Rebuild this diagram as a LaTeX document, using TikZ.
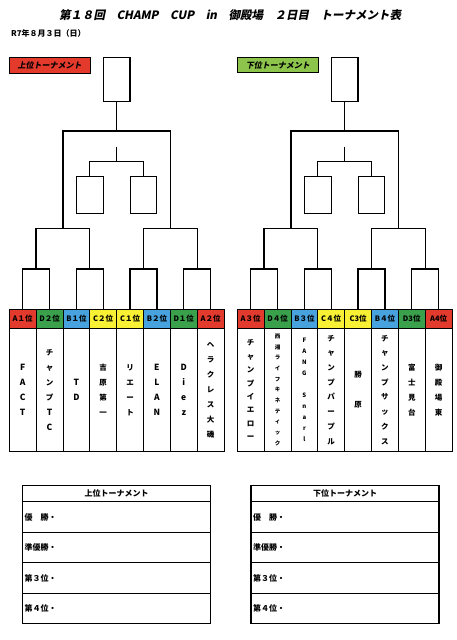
\documentclass[tikz,border=0pt]{standalone}
\usepackage{fontspec}
\setmainfont{Noto Sans CJK JP}
\newfontfamily\slantjp[FakeSlant=0.2]{Noto Sans CJK JP}
\definecolor{cA}{RGB}{226,58,44}
\definecolor{cB}{RGB}{72,162,222}
\definecolor{cC}{RGB}{248,240,52}
\definecolor{cD}{RGB}{58,160,76}
\definecolor{lblred}{RGB}{228,58,44}
\definecolor{lblgreen}{RGB}{140,196,76}
\newcommand\lat[1]{{\fontsize{8.5}{15}\selectfont #1}}
\tikzset{
  ln/.style={line width=1.3pt},
  hdr/.style={draw, line width=0.9pt, minimum width=26.84pt, minimum height=19pt, inner sep=0pt, font=\bfseries\fontsize{7.5}{8}\selectfont},
  namebox/.style={draw, line width=0.9pt, minimum width=26.84pt, minimum height=123pt, inner sep=0pt, align=center, font=\bfseries\fontsize{7.5}{15}\selectfont},
  latbox/.style={namebox, font=\bfseries\fontsize{8.5}{15}\selectfont},
  finalbox/.style={draw, line width=1.1pt, minimum width=26.7pt, minimum height=44.4pt, inner sep=0pt},
  thirdbox/.style={draw, line width=1.1pt, minimum width=26.7pt, minimum height=36.6pt, inner sep=0pt},
  lbl/.style={draw, line width=1pt, minimum width=80.7pt, minimum height=15.6pt, inner sep=0pt, font=\slantjp\bfseries\fontsize{8}{9}\selectfont},
  thead/.style={draw, line width=1.1pt, minimum width=188pt, minimum height=16pt, inner sep=0pt, font=\bfseries\fontsize{8}{9}\selectfont},
  trow/.style={draw, line width=1.1pt, text width=184pt, inner sep=2pt, minimum height=30.6pt, align=left, font=\bfseries\fontsize{8}{9}\selectfont},
}
\newcommand\bracketlines[1]{%
  \node[finalbox] (#1top) at (116.66,79.5) {};
  \node[thirdbox] (#1b1) at (89.82,195) {};
  \node[thirdbox] (#1b2) at (143.5,195) {};
  \coordinate (#1q12) at (36.14,269);
  \coordinate (#1q34) at (89.82,269);
  \coordinate (#1q56) at (143.5,269);
  \coordinate (#1q78) at (197.18,269);
  \coordinate (#1s14) at (62.98,228.3);
  \coordinate (#1s58) at (170.34,228.3);
  \coordinate (#1f) at (116.66,131);
  \coordinate (#1t0) at (116.66,146.7);
  \coordinate (#1t1) at (116.66,161.7);
  \draw[ln] (#1h1.north) |- (#1q12) -| (#1h2.north);
  \draw[ln] (#1h3.north) |- (#1q34) -| (#1h4.north);
  \draw[ln] (#1h5.north) |- (#1q56) -| (#1h6.north);
  \draw[ln] (#1h7.north) |- (#1q78) -| (#1h8.north);
  \draw[ln] (#1q12) |- (#1s14) -| (#1q34);
  \draw[ln] (#1q56) |- (#1s58) -| (#1q78);
  \draw[ln] (#1s14) |- (#1f) -| (#1s58);
  \draw[ln] (#1f) -- (#1top.south);
  \draw[ln] (#1t0) -- (#1t1);
  \draw[ln] (#1b1.north) |- (#1t1) -| (#1b2.north);
}
\begin{document}
\begin{tikzpicture}[x=1pt,y=-1pt]
\useasboundingbox[fill=white] (0,0) rectangle (457,640);
% title
\node[font=\slantjp\bfseries\fontsize{11.5}{12}\selectfont] (title) at (230,15) {第１８回　CHAMP　CUP　in　御殿場　２日目　トーナメント表};
\node[anchor=west, inner sep=0pt, font=\bfseries\fontsize{8}{9}\selectfont] (date) at (11,33) {R7年８月３日（日）};
% labels
\node[lbl, fill=lblred] (lblup) at (49.65,65.5) {上位トーナメント};
\node[lbl, fill=lblgreen] (lbllow) at (277.8,65) {下位トーナメント};
% left bracket
\begin{scope}
  \node[hdr, fill=cA] (Lh1) at (22.72,318.8) {A１位};
  \node[hdr, fill=cD] (Lh2) at (49.56,318.8) {D２位};
  \node[hdr, fill=cB] (Lh3) at (76.40,318.8) {B１位};
  \node[hdr, fill=cC] (Lh4) at (103.24,318.8) {C２位};
  \node[hdr, fill=cC] (Lh5) at (130.08,318.8) {C１位};
  \node[hdr, fill=cB] (Lh6) at (156.92,318.8) {B２位};
  \node[hdr, fill=cD] (Lh7) at (183.76,318.8) {D１位};
  \node[hdr, fill=cA] (Lh8) at (210.60,318.8) {A２位};
  \node[latbox] (Ln1) at (22.72,389.8) {F\\A\\C\\T};
  \node[namebox] (Ln2) at (49.56,389.8) {チ\\ャ\\ン\\プ\\\lat{T}\\\lat{C}};
  \node[latbox] (Ln3) at (76.40,389.8) {T\\D};
  \node[namebox] (Ln4) at (103.24,389.8) {吉\\原\\第\\一};
  \node[namebox] (Ln5) at (130.08,389.8) {リ\\エ\\ー\\ト};
  \node[latbox] (Ln6) at (156.92,389.8) {E\\L\\A\\N};
  \node[latbox] (Ln7) at (183.76,389.8) {D\\i\\e\\z};
  \node[namebox] (Ln8) at (210.60,389.8) {ヘ\\ラ\\ク\\レ\\ス\\大\\磯};
  \bracketlines{L}
\end{scope}
% right bracket
\begin{scope}[xshift=228pt]
  \node[hdr, fill=cA] (Rh1) at (22.72,318.8) {A３位};
  \node[hdr, fill=cD] (Rh2) at (49.56,318.8) {D４位};
  \node[hdr, fill=cB] (Rh3) at (76.40,318.8) {B３位};
  \node[hdr, fill=cC] (Rh4) at (103.24,318.8) {C４位};
  \node[hdr, fill=cC] (Rh5) at (130.08,318.8) {C3位};
  \node[hdr, fill=cB] (Rh6) at (156.92,318.8) {B４位};
  \node[hdr, fill=cD] (Rh7) at (183.76,318.8) {D3位};
  \node[hdr, fill=cA] (Rh8) at (210.60,318.8) {A4位};
  \node[namebox, font=\bfseries\fontsize{7.5}{13.4}\selectfont] (Rn1) at (22.72,389.8) {チ\\ャ\\ン\\プ\\イ\\エ\\ロ\\ー};
  \node[namebox, font=\bfseries\fontsize{5.5}{10.7}\selectfont] (Rn2) at (49.56,389.8) {西\\湘\\ラ\\イ\\フ\\キ\\ネ\\テ\\ィ\\ッ\\ク};
  \node[namebox, font=\bfseries\fontsize{6}{10.9}\selectfont] (Rn3) at (76.40,389.8) {F\\A\\N\\G\\\mbox{}\\S\\n\\a\\r\\l};
  \node[namebox, font=\bfseries\fontsize{7.5}{14.7}\selectfont] (Rn4) at (103.24,389.8) {チ\\ャ\\ン\\プ\\パ\\ー\\プ\\ル};
  \node[namebox] (Rn5) at (130.08,389.8) {勝\\\mbox{}\\原};
  \node[namebox, font=\bfseries\fontsize{7.5}{14.7}\selectfont] (Rn6) at (156.92,389.8) {チ\\ャ\\ン\\プ\\サ\\ッ\\ク\\ス};
  \node[namebox] (Rn7) at (183.76,389.8) {富\\士\\見\\台};
  \node[namebox] (Rn8) at (210.60,389.8) {御\\殿\\場\\東};
  \bracketlines{R}
\end{scope}
% result tables
\node[thead] (TLh) at (116.7,493.7) {上位トーナメント};
\node[trow] (TL1) at (116.7,517.0) {優　勝・};
\node[trow] (TL2) at (116.7,547.5) {準優勝・};
\node[trow] (TL3) at (116.7,578.0) {第３位・};
\node[trow] (TL4) at (116.7,608.6) {第４位・};
\node[thead] (TRh) at (345.0,493.7) {下位トーナメント};
\node[trow] (TR1) at (345.0,517.0) {優　勝・};
\node[trow] (TR2) at (345.0,547.5) {準優勝・};
\node[trow] (TR3) at (345.0,578.0) {第３位・};
\node[trow] (TR4) at (345.0,608.6) {第４位・};
\end{tikzpicture}
\end{document}
